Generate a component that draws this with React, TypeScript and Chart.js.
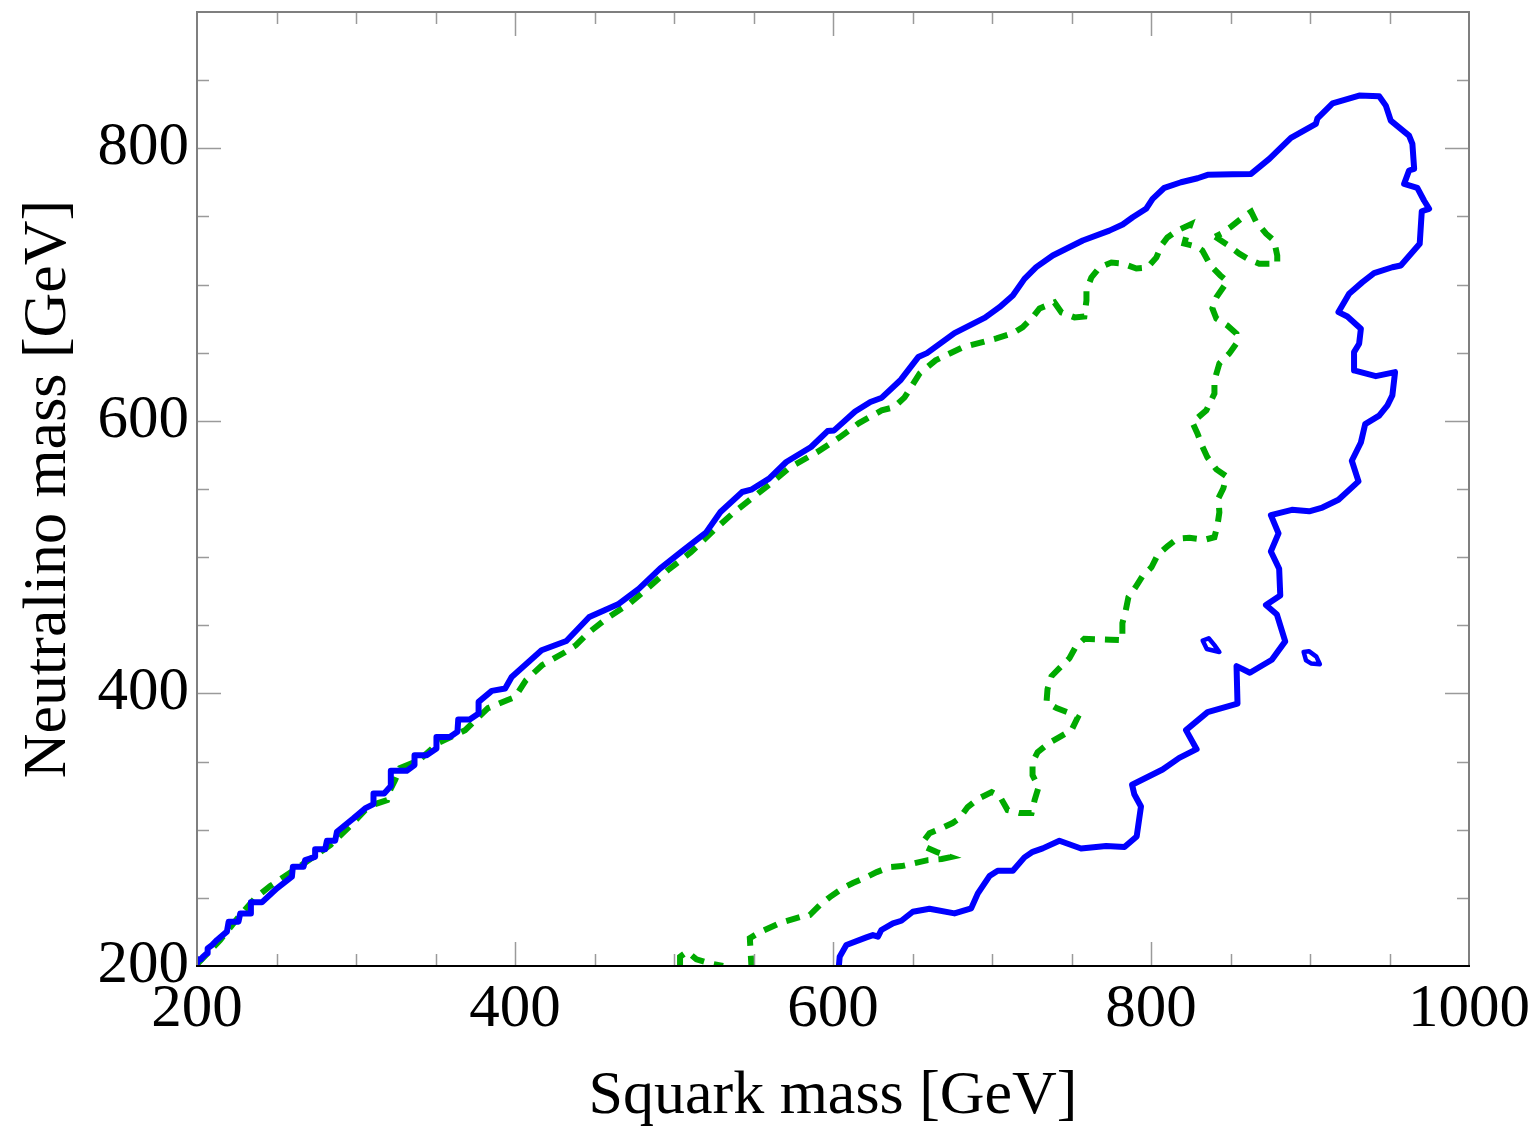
import React, { useEffect, useRef } from 'react';
import { Chart, registerables } from 'chart.js';

Chart.register(...registerables);

// Axis ranges and labelled ticks
const xRange: [number, number] = [200, 1000];
const yRange: [number, number] = [200, 900];
const tickStep = 50;
const xTickLabels = [200, 400, 600, 800, 1000];
const yTickLabels = [200, 400, 600, 800];
const xTitle = 'Squark mass [GeV]';
const yTitle = 'Neutralino mass [GeV]';

// Solid blue contour: [squark mass, neutralino mass]
const blueContour: [number, number][] = [
  [200.0, 202.0], [201.0, 204.9], [202.5, 204.9], [203.8, 206.8], [206.3, 209.3], [206.7, 213.0],
  [209.4, 215.4], [212.6, 219.1], [218.8, 225.2], [219.9, 232.5], [226.1, 232.5], [227.2, 238.6],
  [233.5, 238.6], [233.9, 246.7], [240.8, 246.7], [250.3, 257.0], [259.7, 265.5], [260.3, 272.8],
  [267.0, 272.8], [268.0, 277.7], [274.3, 280.1], [274.3, 285.6], [280.6, 285.6], [281.7, 291.9],
  [286.9, 291.9], [288.0, 298.5], [298.4, 308.3], [305.7, 315.6], [311.0, 318.8], [311.0, 326.6],
  [317.7, 326.6], [321.9, 332.0], [321.9, 343.2], [331.9, 343.2], [336.8, 347.4], [336.8, 354.7],
  [344.6, 354.7], [350.6, 359.6], [350.6, 368.1], [359.0, 368.1], [363.8, 371.8], [364.3, 380.9],
  [371.5, 380.9], [377.1, 385.3], [377.1, 393.8], [385.4, 401.9], [393.8, 403.6], [397.9, 412.1],
  [416.7, 431.7], [432.3, 438.5], [446.7, 456.1], [464.8, 465.4], [478.0, 476.9], [491.2, 491.6],
  [505.7, 505.0], [520.1, 518.0], [529.2, 533.1], [542.9, 547.8], [548.5, 549.5], [559.8, 557.6],
  [570.6, 569.8], [586.2, 580.8], [596.6, 592.5], [600.7, 593.0], [613.9, 606.9], [623.5, 613.8],
  [630.7, 617.0], [642.7, 630.2], [653.6, 646.8], [659.1, 649.7], [676.4, 664.4], [695.6, 675.7],
  [704.7, 683.4], [713.1, 692.0], [720.4, 704.2], [727.8, 712.8], [738.2, 721.3], [757.1, 732.3],
  [773.8, 739.6], [782.2, 744.1], [788.5, 749.4], [796.9, 755.6], [801.0, 762.9], [808.4, 771.0],
  [818.9, 775.1], [829.3, 778.0], [835.6, 780.5], [851.3, 780.9], [862.9, 781.2], [874.4, 792.2],
  [888.0, 807.6], [903.7, 817.9], [904.7, 822.0], [914.2, 833.0], [930.9, 838.7], [943.5, 838.2],
  [947.7, 831.3], [950.8, 820.3], [962.3, 809.3], [964.4, 803.2], [965.5, 784.9], [962.3, 783.7],
  [959.2, 773.9], [967.5, 771.0], [971.7, 761.7], [974.9, 755.6], [970.3, 753.8], [969.0, 729.9],
  [957.1, 714.0], [951.8, 712.7], [940.3, 708.4], [933.0, 701.8], [924.6, 693.3], [917.9, 679.8],
  [923.5, 676.6], [932.0, 667.6], [930.9, 656.6], [927.7, 650.4], [927.7, 637.0], [941.4, 632.8],
  [953.5, 635.8], [951.8, 618.7], [948.7, 611.4], [943.5, 603.8], [934.7, 597.6], [932.0, 584.1],
  [926.3, 570.7], [930.5, 555.6], [917.9, 542.1], [907.8, 536.4], [899.5, 533.6], [888.6, 534.7],
  [875.4, 530.8], [880.2, 517.4], [875.4, 504.2], [880.6, 491.5], [881.3, 471.9], [872.3, 464.9],
  [879.2, 457.9], [884.4, 438.2], [876.0, 424.7], [862.2, 415.2], [853.8, 420.0], [854.4, 392.5],
  [835.6, 386.3], [822.0, 373.1], [828.7, 359.1], [817.8, 352.7], [807.3, 344.2], [788.1, 333.0],
  [789.5, 326.0], [793.7, 317.0], [791.0, 295.1], [783.3, 287.3], [771.8, 288.1], [756.0, 286.2],
  [742.4, 291.9], [731.9, 286.3], [725.6, 283.8], [720.4, 279.7], [713.1, 269.9], [703.6, 269.9],
  [698.4, 266.0], [691.1, 253.3], [686.9, 242.3], [676.4, 238.6], [660.7, 242.0], [650.2, 239.8],
  [643.0, 233.2], [637.7, 231.3], [630.4, 226.4], [628.3, 221.5], [625.1, 222.7], [621.0, 221.0],
  [608.4, 215.4], [604.2, 206.8], [603.7, 200.0],
];

const blueIslandA: [number, number][] = [
  [832.5, 438.8], [836.3, 440.5], [839.9, 435.4], [843.0, 430.4], [835.1, 432.6], [832.5, 438.8],
];

const blueIslandB: [number, number][] = [
  [896.0, 430.4], [899.3, 431.0], [904.0, 427.0], [906.2, 421.4], [900.6, 422.0], [897.5, 424.2], [896.0, 430.4],
];

// Dashed green contour
const greenContour: [number, number][] = [
  [200.2, 201.5], [214.6, 219.1], [227.2, 237.4], [236.6, 249.9], [246.1, 258.7], [255.5, 266.0],
  [264.9, 273.3], [283.8, 288.7], [296.3, 302.7], [305.7, 314.4], [312.0, 318.8], [319.6, 321.7],
  [321.5, 329.1], [324.6, 336.4], [327.7, 345.2], [339.7, 351.0], [351.6, 363.5], [368.6, 373.0],
  [383.0, 389.2], [395.0, 395.0], [400.0, 397.3], [406.9, 409.7], [417.0, 420.7], [431.4, 430.2],
  [438.3, 435.4], [445.9, 444.2], [457.8, 455.2], [472.3, 466.2], [484.2, 477.9], [496.1, 490.4],
  [510.6, 503.6], [525.1, 519.7], [537.0, 532.2], [549.0, 543.2], [561.0, 554.2], [572.9, 565.9],
  [589.8, 576.9], [604.2, 587.9], [616.1, 598.2], [630.6, 607.7], [638.1, 609.9], [645.0, 617.2],
  [654.5, 634.8], [664.5, 644.4], [681.5, 653.9], [702.8, 660.5], [712.9, 664.2], [719.2, 668.6],
  [725.5, 675.9], [729.9, 682.5], [739.3, 686.9], [743.7, 679.5], [751.9, 675.9], [758.1, 676.6],
  [759.4, 688.3], [759.4, 695.7], [762.5, 705.2], [767.5, 712.5], [775.1, 716.2], [782.0, 715.5],
  [790.8, 711.8], [797.7, 712.5], [803.4, 719.9], [806.5, 728.7], [810.3, 734.5], [816.6, 739.7],
  [824.8, 744.1], [822.3, 736.0], [821.0, 730.1], [828.6, 727.9], [832.3, 725.0], [837.4, 714.0],
  [843.6, 706.7], [848.0, 702.3], [841.1, 690.6], [838.6, 682.5], [841.1, 675.1], [848.0, 670.0],
  [853.7, 664.1], [853.7, 656.8], [849.3, 649.5], [843.0, 642.1], [839.9, 629.7], [839.9, 620.1],
  [834.8, 607.7], [826.0, 598.9], [829.2, 590.8], [832.3, 581.3], [835.5, 573.2], [841.1, 564.4],
  [847.4, 559.3], [845.5, 550.5], [842.4, 543.2], [843.0, 532.9], [841.8, 523.4], [839.9, 514.6],
  [833.6, 512.7], [824.2, 514.2], [816.6, 513.5], [810.3, 508.0], [804.1, 501.4], [800.3, 492.6],
  [794.6, 486.0], [790.2, 477.9], [785.8, 470.6], [783.9, 459.6], [782.0, 451.5], [782.0, 439.0],
  [774.5, 439.4], [765.7, 439.8], [758.1, 440.1], [752.5, 433.9], [748.7, 425.8], [742.4, 418.5],
  [737.4, 412.6], [734.9, 403.1], [734.3, 393.6], [740.6, 389.2], [747.5, 386.2], [753.8, 382.1],
  [750.0, 373.0], [742.4, 367.9], [736.2, 363.9], [728.7, 356.9], [725.5, 349.6], [725.5, 340.0],
  [729.3, 331.3], [726.8, 321.7], [724.9, 312.2], [717.4, 312.2], [709.8, 314.4], [704.8, 324.7],
  [699.8, 327.6], [691.0, 322.5], [684.7, 316.6], [679.7, 308.5], [675.2, 304.9], [668.4, 301.2],
  [660.7, 297.5], [657.0, 291.7], [658.2, 287.3], [665.2, 283.6], [674.0, 279.9], [668.4, 278.5],
  [659.6, 277.7], [651.4, 275.5], [643.2, 273.3], [635.7, 272.6], [627.5, 268.9], [621.3, 265.3],
  [612.5, 260.9], [606.2, 257.2], [598.0, 250.6], [591.7, 244.7], [585.4, 237.4], [579.1, 235.9],
  [566.5, 231.5], [554.0, 224.9], [547.7, 220.5], [548.3, 208.1], [548.7, 200.0],
];

const greenLoop: [number, number][] = [
  [840.4, 735.1], [848.0, 729.3], [855.5, 722.7], [861.8, 718.3], [868.1, 715.3], [879.4, 715.3],
  [879.4, 721.2], [877.4, 732.2], [872.4, 737.3], [866.1, 746.1], [863.0, 753.5], [856.7, 748.4],
  [850.4, 742.5], [844.1, 737.3], [840.4, 735.1],
];

const greenFragment: [number, number][] = [
  [503.8, 200.0], [503.8, 206.8], [508.2, 210.5], [514.1, 204.9], [522.5, 202.0], [530.9, 200.0],
];

const toPoints = (arr: [number, number][]) => arr.map(([x, y]) => ({ x, y }));

const FONT = 'Liberation Serif';

const frameAndTicks = {
  id: 'frameAndTicks',
  afterDatasetsDraw(chart: any) {
    const { ctx, chartArea, scales } = chart;
    const { left, right, top, bottom } = chartArea;
    const xs = scales.x;
    const ys = scales.y;
    ctx.save();
    ctx.lineCap = 'butt';
    ctx.strokeStyle = '#9a9a9a';
    ctx.lineWidth = 1.5;
    ctx.beginPath();
    xs.ticks.forEach((t: any) => {
      if (t.value <= xRange[0] || t.value >= xRange[1]) return;
      const px = Math.round(xs.getPixelForValue(t.value)) + 0.5;
      const len = xTickLabels.includes(t.value) ? 24 : 12;
      ctx.moveTo(px, bottom);
      ctx.lineTo(px, bottom - len);
      ctx.moveTo(px, top);
      ctx.lineTo(px, top + len);
    });
    ys.ticks.forEach((t: any) => {
      if (t.value <= yRange[0] || t.value >= yRange[1]) return;
      const py = Math.round(ys.getPixelForValue(t.value)) + 0.5;
      const len = yTickLabels.includes(t.value) ? 24 : 12;
      ctx.moveTo(left, py);
      ctx.lineTo(left + len, py);
      ctx.moveTo(right, py);
      ctx.lineTo(right - len, py);
    });
    ctx.stroke();

    ctx.lineWidth = 2;
    ctx.strokeStyle = '#7f7f7f';
    ctx.beginPath();
    ctx.moveTo(left, bottom);
    ctx.lineTo(left, top);
    ctx.lineTo(right, top);
    ctx.lineTo(right, bottom);
    ctx.stroke();
    ctx.strokeStyle = '#000000';
    ctx.beginPath();
    ctx.moveTo(left - 1, bottom);
    ctx.lineTo(right + 1, bottom);
    ctx.stroke();
    ctx.restore();
  },
};

export default function App() {
  const canvasRef = useRef<HTMLCanvasElement | null>(null);

  useEffect(() => {
    document.body.style.margin = '0';
    let chart: Chart | null = null;
    let cancelled = false;

    const build = () => {
      if (cancelled || !canvasRef.current) return;
      const blueBase = {
        borderColor: '#0000ff',
        backgroundColor: '#0000ff',
        showLine: true,
        pointRadius: 0,
        pointHoverRadius: 0,
        tension: 0,
        fill: false,
        borderJoinStyle: 'round' as const,
        borderCapStyle: 'round' as const,
      };
      const greenBase = {
        borderColor: '#00aa00',
        backgroundColor: '#00aa00',
        showLine: true,
        pointRadius: 0,
        pointHoverRadius: 0,
        tension: 0,
        fill: false,
        borderWidth: 6,
        borderDash: [14, 10],
        borderJoinStyle: 'miter' as const,
        borderCapStyle: 'butt' as const,
      };
      chart = new Chart(canvasRef.current, {
        type: 'scatter',
        data: {
          datasets: [
            { ...blueBase, label: 'blue', data: toPoints(blueContour), borderWidth: 6 },
            { ...blueBase, label: 'blueA', data: toPoints(blueIslandA), borderWidth: 4.5 },
            { ...blueBase, label: 'blueB', data: toPoints(blueIslandB), borderWidth: 4.5 },
            { ...greenBase, label: 'green', data: toPoints(greenContour) },
            { ...greenBase, label: 'greenLoop', data: toPoints(greenLoop) },
            { ...greenBase, label: 'greenFrag', data: toPoints(greenFragment) },
          ],
        },
        options: {
          responsive: false,
          devicePixelRatio: 1,
          animation: false,
          events: [],
          layout: { padding: { top: 12, right: 70, left: 0, bottom: 0 } },
          plugins: {
            legend: { display: false },
            tooltip: { enabled: false },
          },
          scales: {
            x: {
              type: 'linear',
              min: xRange[0],
              max: xRange[1],
              grid: { display: false, drawTicks: false },
              border: { display: false },
              ticks: {
                stepSize: tickStep,
                autoSkip: false,
                maxRotation: 0,
                padding: 13,
                color: '#000000',
                font: { family: FONT, size: 61, lineHeight: 1 },
                callback: (v: any) => (xTickLabels.includes(Number(v)) ? String(v) : ''),
              },
              title: {
                display: true,
                text: xTitle,
                color: '#000000',
                font: { family: FONT, size: 62, lineHeight: 1 },
                padding: { top: 0, bottom: 1 },
              },
              afterFit: (scale: any) => {
                scale.height = 163;
                scale.paddingLeft = 0;
                scale.paddingRight = 0;
              },
            },
            y: {
              type: 'linear',
              min: yRange[0],
              max: yRange[1],
              grid: { display: false, drawTicks: false },
              border: { display: false },
              ticks: {
                stepSize: tickStep,
                autoSkip: false,
                padding: 8,
                color: '#000000',
                font: { family: FONT, size: 61, lineHeight: 1 },
                callback: (v: any) => (yTickLabels.includes(Number(v)) ? String(v) : ''),
              },
              title: {
                display: true,
                text: yTitle,
                color: '#000000',
                font: { family: FONT, size: 62, lineHeight: 1 },
                padding: { top: 18, bottom: 0 },
              },
              afterFit: (scale: any) => {
                scale.width = 197;
                scale.paddingTop = 0;
                scale.paddingBottom = 0;
              },
            },
          },
        },
        plugins: [frameAndTicks],
      } as any);
    };

    const fontsApi = (document as any).fonts;
    if (fontsApi && fontsApi.load) {
      fontsApi.load(`62px "${FONT}"`).then(build, build);
    } else {
      build();
    }

    return () => {
      cancelled = true;
      if (chart) chart.destroy();
    };
  }, []);

  return (
    <div style={{ position: 'absolute', left: 0, top: 0, width: 1539, height: 1129, background: '#ffffff' }}>
      <canvas ref={canvasRef} width={1539} height={1129} style={{ display: 'block', width: 1539, height: 1129 }} />
    </div>
  );
}
